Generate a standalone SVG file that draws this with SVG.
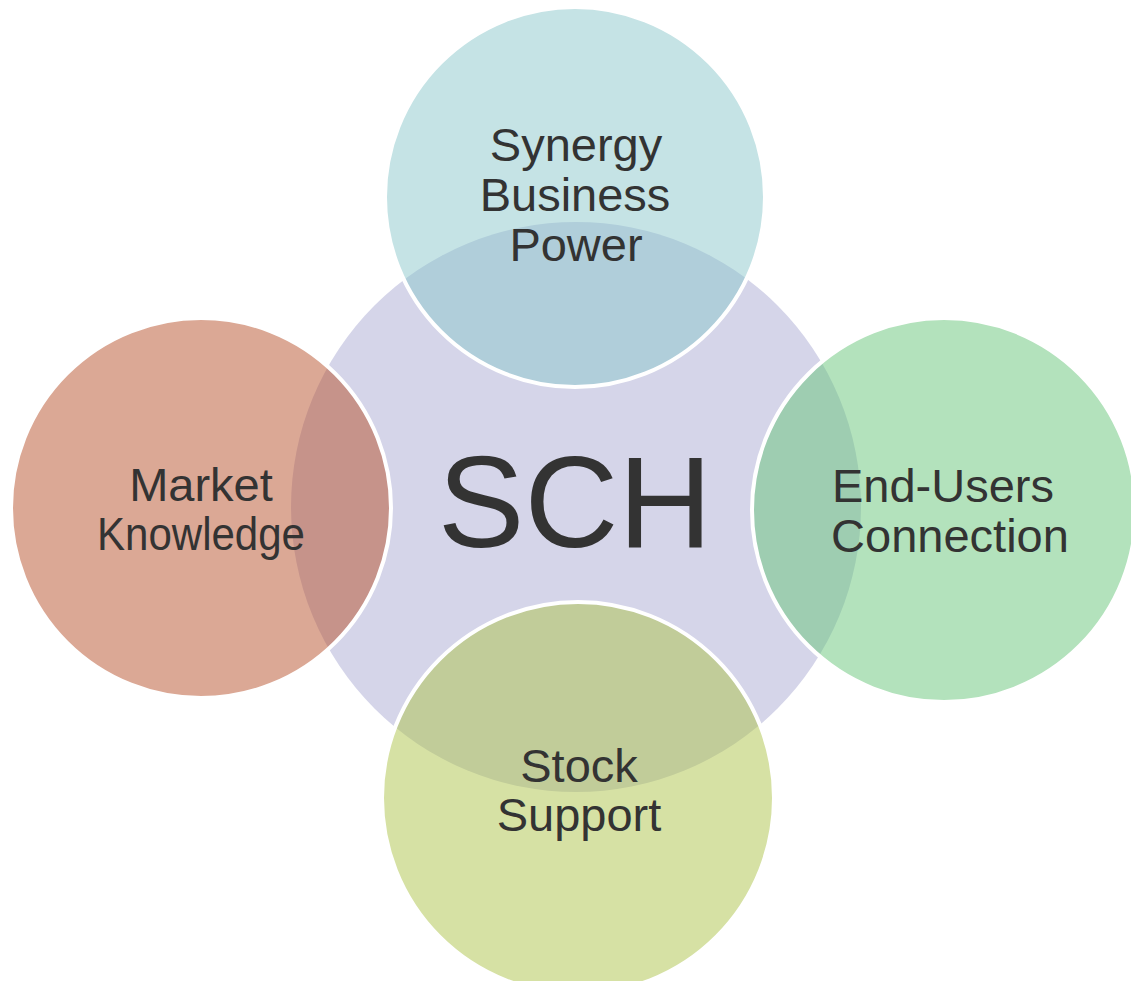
<svg xmlns="http://www.w3.org/2000/svg" width="1131" height="981" viewBox="0 0 1131 981">
<style>
  .lbl { font-family: "Liberation Sans", Arial, sans-serif; font-size: 47px; fill: #333333; text-anchor: middle; }
  .big { font-family: "Liberation Sans", Arial, sans-serif; font-size: 130px; fill: #333333; text-anchor: middle; }
  .outer { stroke: #ffffff; stroke-width: 4; fill-opacity: 0.5; }
</style>
<rect width="1131" height="981" fill="#ffffff"/>
<g id="center">
  <circle cx="576" cy="507" r="285" fill="#d5d5e9"/>
  <text class="big" x="575" y="547">SCH</text>
</g>
<g id="connectors"></g>
<g id="top">
  <circle class="outer" cx="575" cy="197" r="190" fill="#8bc7cb"/>
  <text class="lbl" x="576" y="161">Synergy</text>
  <text class="lbl" x="575" y="211">Business</text>
  <text class="lbl" x="576" y="261">Power</text>
</g>
<g id="left">
  <circle class="outer" cx="201" cy="508" r="190" fill="#b7512b"/>
  <text class="lbl" x="201" y="501">Market</text>
  <text class="lbl" x="201" y="550" textLength="208" lengthAdjust="spacingAndGlyphs">Knowledge</text>
</g>
<g id="right">
  <circle class="outer" cx="944" cy="510" r="192" fill="#67c579"/>
  <text class="lbl" x="943" y="502">End-Users</text>
  <text class="lbl" x="950" y="552">Connection</text>
</g>
<g id="bottom">
  <circle class="outer" cx="578" cy="798" r="196" fill="#adc349"/>
  <text class="lbl" x="579" y="782">Stock</text>
  <text class="lbl" x="579" y="831">Support</text>
</g>
</svg>
